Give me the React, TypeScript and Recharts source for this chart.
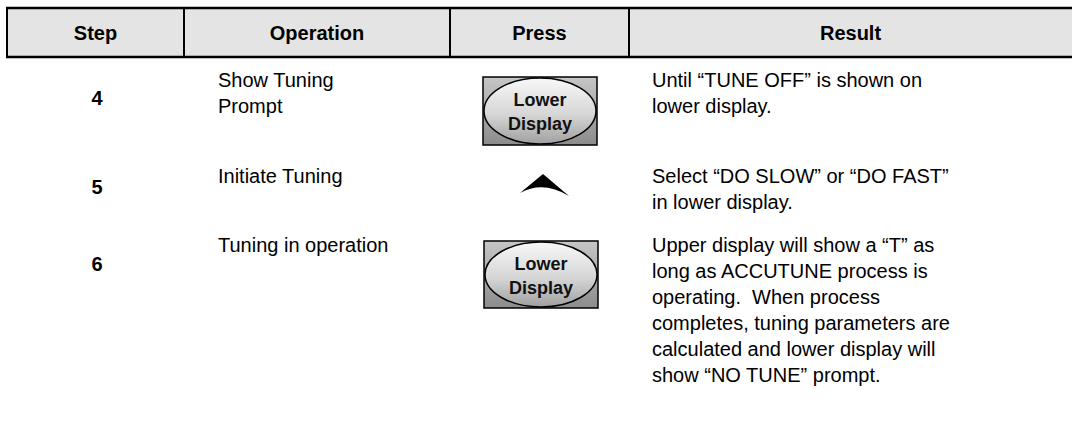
import React from 'react';
import { ComposedChart, Customized, XAxis, YAxis } from 'recharts';

const headers = ['Step', 'Operation', 'Press', 'Result'];
const steps = ['4', '5', '6'];
const operations = [['Show Tuning', 'Prompt'], ['Initiate Tuning'], ['Tuning in operation']];
const presses = ['Lower Display', 'Up', 'Lower Display'];
const results = [
  ['Until \u201CTUNE OFF\u201D is shown on', 'lower display.'],
  ['Select \u201CDO SLOW\u201D or \u201CDO FAST\u201D', 'in lower display.'],
  [
    'Upper display will show a \u201CT\u201D as',
    'long as ACCUTUNE process is',
    'operating.  When process',
    'completes, tuning parameters are',
    'calculated and lower display will',
    'show \u201CNO TUNE\u201D prompt.',
  ],
];

const W = 1072;
const H = 426;
const FONT = '"Liberation Sans", Arial, sans-serif';
const colX = [7, 184, 450, 629, 1072];
const headTop = 8;
const headBottom = 57;
const rowBaselines = [87, 183, 252];
const stepBaselines = [105, 194, 271];
const lineH = 26;

const rows = steps.map((s, i) => ({ step: s, i }));

function Button({ x, y, w, h }: { x: number; y: number; w: number; h: number }) {
  const cx = x + w / 2;
  const cy = y + h / 2;
  return (
    <g>
      <rect x={x} y={y} width={w} height={h} fill="url(#btnBg)" stroke="#000" strokeWidth={1.5} />
      <ellipse cx={cx} cy={cy} rx={w / 2 - 1} ry={h / 2 - 1} fill="url(#btnOval)" stroke="#000" strokeWidth={1.5} />
      <text x={cx} y={cy - 5} textAnchor="middle" fontFamily={FONT} fontWeight="bold" fontSize={18} fill="#111">
        Lower
      </text>
      <text x={cx} y={cy + 19} textAnchor="middle" fontFamily={FONT} fontWeight="bold" fontSize={18} fill="#111">
        Display
      </text>
    </g>
  );
}

function Table() {
  const pressBoxes = [
    { x: 483, y: 77, w: 114, h: 68 },
    null,
    { x: 484, y: 241, w: 114, h: 67 },
  ];
  return (
    <g>
      <defs>
        <linearGradient id="btnBg" x1="0" y1="0" x2="0" y2="1">
          <stop offset="0%" stopColor="#c6c6c6" />
          <stop offset="100%" stopColor="#8c8c8c" />
        </linearGradient>
        <linearGradient id="btnOval" x1="0" y1="0" x2="0" y2="1">
          <stop offset="0%" stopColor="#f8f8f8" />
          <stop offset="55%" stopColor="#d6d6d6" />
          <stop offset="100%" stopColor="#a0a0a0" />
        </linearGradient>
      </defs>
      <rect x={colX[0]} y={headTop} width={W - colX[0]} height={headBottom - headTop} fill="#e4e4e4" />
      <line x1={colX[0] - 1} y1={headTop} x2={W} y2={headTop} stroke="#000" strokeWidth={2.5} />
      <line x1={colX[0] - 1} y1={headBottom} x2={W} y2={headBottom} stroke="#000" strokeWidth={2.5} />
      {colX.slice(0, 4).map((x, i) => (
        <line key={i} x1={x} y1={headTop} x2={x} y2={headBottom} stroke="#000" strokeWidth={2} />
      ))}
      {headers.map((h, i) => (
        <text
          key={h}
          x={(colX[i] + colX[i + 1]) / 2}
          y={40}
          textAnchor="middle"
          fontFamily={FONT}
          fontWeight="bold"
          fontSize={20}
          fill="#000"
        >
          {h}
        </text>
      ))}
      {rows.map((r) => {
        const b = rowBaselines[r.i];
        const box = pressBoxes[r.i];
        return (
          <g key={r.step}>
            <text
              x={97}
              y={stepBaselines[r.i]}
              textAnchor="middle"
              fontFamily={FONT}
              fontWeight="bold"
              fontSize={20}
              fill="#000"
            >
              {r.step}
            </text>
            {operations[r.i].map((t, k) => (
              <text key={k} x={218} y={b + k * lineH} fontFamily={FONT} fontSize={20} fill="#000">
                {t}
              </text>
            ))}
            {presses[r.i] === 'Up' ? (
              <path d="M520,193 L543,174 L569,196 Q543,180 520,193 Z" fill="#000" />
            ) : box ? (
              <Button x={box.x} y={box.y} w={box.w} h={box.h} />
            ) : null}
            {results[r.i].map((t, k) => (
              <text
                key={k}
                x={652}
                y={b + k * lineH}
                fontFamily={FONT}
                fontSize={20}
                fill="#000"
                style={{ whiteSpace: 'pre' }}
              >
                {t}
              </text>
            ))}
          </g>
        );
      })}
    </g>
  );
}

export default function App() {
  return (
    <div style={{ position: 'absolute', left: 0, top: 0, width: W, height: H, background: '#fff' }}>
      <ComposedChart width={W} height={H} data={rows} margin={{ top: 0, right: 0, bottom: 0, left: 0 }}>
        <XAxis dataKey="step" hide />
        <YAxis hide />
        <Customized component={<Table />} />
      </ComposedChart>
    </div>
  );
}
